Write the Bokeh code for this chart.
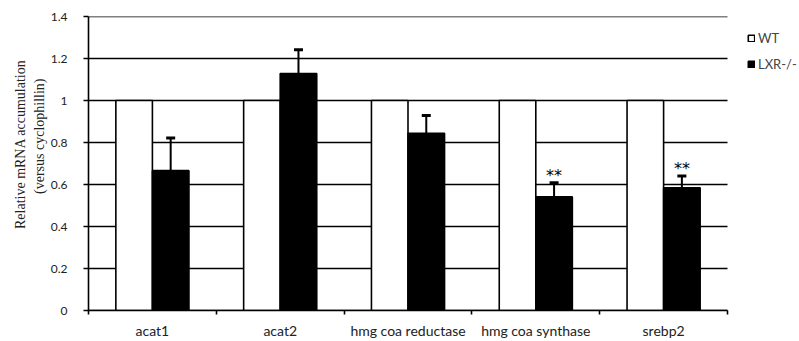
import numpy as np
from bokeh.plotting import figure
from bokeh.models import (ColumnDataSource, FixedTicker, Whisker, TeeHead, Legend,
                          LegendItem, Title, Range1d, NumeralTickFormatter)
from bokeh.core.properties import value
from bokeh.embed import file_html
from bokeh.resources import INLINE

# ---- data ----
categories = ["acat1", "acat2", "hmg coa reductase", "hmg coa synthase", "srebp2"]
wt_values = [1.0, 1.0, 1.0, 1.0, 1.0]
lxr_values = [0.666, 1.128, 0.844, 0.541, 0.584]
lxr_errors = [0.155, 0.114, 0.084, 0.067, 0.056]
significance = ["", "", "", "**", "**"]
y_ticks = [0, 0.2, 0.4, 0.6, 0.8, 1.0, 1.2, 1.4]
series_names = ["WT", "LXR-/-"]

n = len(categories)
centers = np.arange(n) + 0.5
half = 0.143
bar_w = 0.286

src = ColumnDataSource(dict(
    xw=centers - half,
    xl=centers + half,
    wt=wt_values,
    lxr=lxr_values,
    upper=[v + e for v, e in zip(lxr_values, lxr_errors)],
    sig=significance,
))

W, H = 799, 341
LEFT, PLOT_RIGHT = 88, 727
x_end = n * (W - LEFT) / (PLOT_RIGHT - LEFT)   # room on the right for the legend

p = figure(width=W, height=H, output_backend="svg", toolbar_location=None,
           x_range=Range1d(0, x_end), y_range=Range1d(0, 1.4),
           min_border_left=LEFT, min_border_right=0, min_border_top=16,
           min_border_bottom=31)
p.outline_line_color = None
p.background_fill_color = "white"
p.border_fill_color = "white"

# horizontal grid lines limited to the plotting area of the categories
p.xgrid.visible = False
p.ygrid.visible = False
p.segment(x0=[0] * len(y_ticks), x1=[n] * len(y_ticks), y0=y_ticks, y1=y_ticks,
          line_color="black", line_width=1.6)

# y axis
p.yaxis.ticker = FixedTicker(ticks=y_ticks)
p.yaxis.formatter = NumeralTickFormatter(format="0.[0]")
p.yaxis.axis_line_color = "black"
p.yaxis.axis_line_width = 1.6
p.yaxis.major_tick_line_color = "black"
p.yaxis.major_tick_line_width = 1.6
p.yaxis.major_tick_out = 5
p.yaxis.major_tick_in = 0
p.yaxis.minor_tick_line_color = None
p.yaxis.major_label_standoff = 16
p.yaxis.major_label_text_font = "Lato"
p.yaxis.major_label_text_font_size = "12px"
p.yaxis.major_label_text_color = "#222222"

# x axis: labels at category centres, ticks at boundaries
p.xaxis.bounds = (0, n)
p.xaxis.ticker = FixedTicker(ticks=list(centers), minor_ticks=list(range(n + 1)))
p.xaxis.major_label_overrides = {float(c): lab for c, lab in zip(centers, categories)}
p.xaxis.axis_line_color = "black"
p.xaxis.axis_line_width = 1.6
p.xaxis.major_tick_line_color = None
p.xaxis.minor_tick_line_color = "black"
p.xaxis.minor_tick_line_width = 1.6
p.xaxis.minor_tick_out = 4
p.xaxis.minor_tick_in = 0
p.xaxis.major_label_standoff = 5
p.xaxis.major_label_text_font = "Lato"
p.xaxis.major_label_text_font_size = "14px"
p.xaxis.major_label_text_color = "#222222"

# y axis title (two lines)
for txt, off in [("(versus cyclophillin)", 62), ("Relative mRNA accumulation", 43)]:
    p.add_layout(Title(text=txt, align="right", offset=off, text_font="Liberation Serif",
                       text_font_size="14px", text_font_style="normal",
                       text_color="#222222", standoff=2), "left")

# bars
r_wt = p.vbar(x="xw", top="wt", width=bar_w, source=src, fill_color="white",
              line_color="black", line_width=1.6)
r_lxr = p.vbar(x="xl", top="lxr", width=bar_w, source=src, fill_color="black",
               line_color="black", line_width=1.6)

# error bars (upper only)
p.add_layout(Whisker(base="xl", lower="lxr", upper="upper", source=src,
                     lower_head=None,
                     upper_head=TeeHead(size=9, line_width=3, line_color="black"),
                     line_width=2, line_color="black", level="overlay"))

# significance stars
p.text(x="xl", y="upper", text="sig", source=src, text_align="center",
       text_baseline="bottom", y_offset=2, text_font=value("DejaVu Sans"),
       text_font_size="16px", text_color="black")

# legend on the right, inside the (extended) frame
legend = Legend(items=[LegendItem(label=series_names[0], renderers=[r_wt]),
                       LegendItem(label=series_names[1], renderers=[r_lxr])],
                location=(PLOT_RIGHT - LEFT + 20, 238), padding=0, margin=0, spacing=10,
                glyph_width=8, glyph_height=8, label_height=8, label_standoff=3,
                label_text_font="Lato", label_text_font_size="13px",
                border_line_color=None, background_fill_alpha=0)
p.add_layout(legend)

open("out.html", "w").write(file_html(p, INLINE))
